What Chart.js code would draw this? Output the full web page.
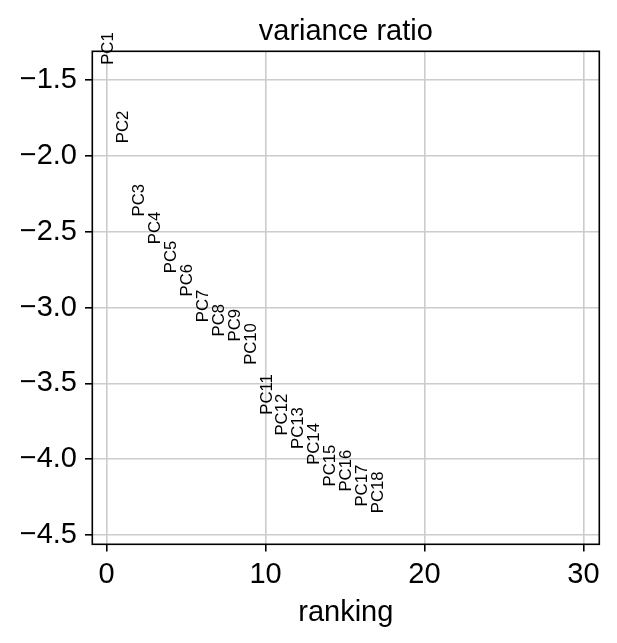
<!DOCTYPE html>
<html>
<head>
<meta charset="utf-8">
<script src="https://cdn.jsdelivr.net/npm/chart.js@4.4.1/dist/chart.umd.min.js"></script>
<style>
  html, body { margin: 0; padding: 0; background: #fff; }
  #chart { display: block; }
</style>
</head>
<body>
<canvas id="chart" width="617" height="643"></canvas>
<script>
// log10 of the variance ratio per PC
var pcLabels = ["PC1", "PC2", "PC3", "PC4", "PC5", "PC6", "PC7", "PC8", "PC9",
  "PC10", "PC11", "PC12", "PC13", "PC14", "PC15", "PC16", "PC17", "PC18"];
var ranks = [0, 1, 2, 3, 4, 5, 6, 7, 8, 9, 10, 11, 12, 13, 14, 15, 16, 17];
var logVariance = [-1.400, -1.917, -2.400, -2.583, -2.774, -2.927, -3.097, -3.191, -3.224,
  -3.378, -3.707, -3.844, -3.932, -4.037, -4.180, -4.213, -4.312, -4.356];
var xTicks = [0, 10, 20, 30];
var yTicks = [-4.5, -4.0, -3.5, -3.0, -2.5, -2.0, -1.5];

var FONT = '"Liberation Sans", Arial, sans-serif';
var GRID = "#cccccc";
var LW = 1.6;

var minus = (s) => s.replace("-", "\u2212");

// vertical PC names, bottom of the text sits on the point
var pcText = {
  id: "pcText",
  afterDatasetsDraw(chart) {
    var ctx = chart.ctx;
    var xs = chart.scales.x, ys = chart.scales.y;
    ctx.save();
    ctx.font = "16.7px " + FONT;
    ctx.fillStyle = "#000";
    ctx.textAlign = "left";
    ctx.textBaseline = "alphabetic";
    pcLabels.forEach((lab, i) => {
      var px = xs.getPixelForValue(ranks[i]);
      var py = ys.getPixelForValue(logVariance[i]);
      ctx.save();
      ctx.translate(px, py);
      ctx.rotate(-Math.PI / 2);
      ctx.fillText(lab, 0, 6);
      ctx.restore();
    });
    ctx.restore();
  },
};

var frame = {
  id: "frame",
  afterDraw(chart) {
    var a = chart.chartArea, ctx = chart.ctx;
    ctx.save();
    ctx.strokeStyle = "#000";
    ctx.lineWidth = LW;
    ctx.strokeRect(a.left, a.top, a.right - a.left, a.bottom - a.top);
    ctx.fillStyle = "#000";
    ctx.textAlign = "center";
    ctx.textBaseline = "alphabetic";
    ctx.font = "29px " + FONT;
    var cx = (a.left + a.right) / 2;
    ctx.fillText("variance ratio", cx, 40);
    ctx.fillText("ranking", cx, 620.7);
    ctx.restore();
  },
};

new Chart(document.getElementById("chart"), {
  type: "scatter",
  data: {
    datasets: [
      {
        data: ranks.map((r, i) => ({ x: r, y: logVariance[i] })),
        pointRadius: 0,
        pointHoverRadius: 0,
      },
    ],
  },
  options: {
    responsive: false,
    animation: false,
    devicePixelRatio: 1,
    layout: { padding: { left: 0, top: 51.3, right: 17.7, bottom: 0 } },
    plugins: { legend: { display: false }, tooltip: { enabled: false }, title: { display: false } },
    scales: {
      x: {
        type: "linear",
        min: -0.9,
        max: 31,
        afterBuildTicks: (s) => { s.ticks = xTicks.map((v) => ({ value: v })); },
        afterFit: (s) => { s.height = 643 - 544.3; },
        border: { display: false },
        grid: { color: GRID, lineWidth: LW, tickColor: "#000", tickLength: 7.3, tickWidth: LW },
        ticks: {
          autoSkip: false,
          maxRotation: 0,
          padding: 6,
          color: "#000",
          font: { family: FONT, size: 29 },
          callback: (v) => String(v),
        },
      },
      y: {
        type: "linear",
        min: -4.561,
        max: -1.311,
        afterBuildTicks: (s) => { s.ticks = yTicks.map((v) => ({ value: v })); },
        afterFit: (s) => { s.width = 92.3; },
        border: { display: false },
        grid: { color: GRID, lineWidth: LW, tickColor: "#000", tickLength: 7.3, tickWidth: LW },
        ticks: {
          autoSkip: false,
          padding: 8,
          color: "#000",
          font: { family: FONT, size: 29 },
          callback: (v) => minus(v.toFixed(1)),
        },
      },
    },
  },
  plugins: [pcText, frame],
});
</script>
</body>
</html>
